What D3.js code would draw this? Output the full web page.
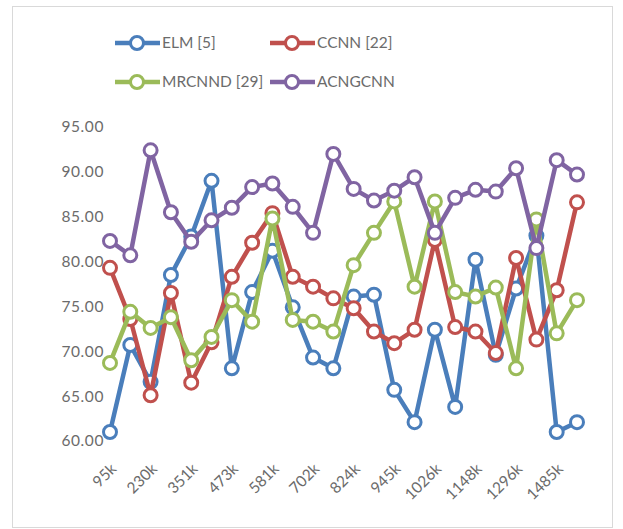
<!DOCTYPE html>
<html>
<head>
<meta charset="utf-8">
<script src="https://cdn.jsdelivr.net/npm/d3@7"></script>
<style>
  body { margin: 0; background: #fff; }
  text { font-family: Lato, "Open Sans", sans-serif; fill: #6b6b6b; }
</style>
</head>
<body>
<div id="chart"></div>
<script>
// categories (only every other one is printed on the axis)
var categories = ["95k", "160k", "230k", "290k", "351k", "412k", "473k", "527k",
  "581k", "641k", "702k", "763k", "824k", "884k", "945k", "985k",
  "1026k", "1087k", "1148k", "1222k", "1296k", "1390k", "1485k", "1570k"];

var elm = [61.0, 70.7, 66.6, 78.5, 82.8, 89.0, 68.1, 76.6, 81.2, 74.9, 69.3, 68.1,
  76.1, 76.3, 65.7, 62.1, 72.4, 63.8, 80.2, 69.6, 77.0, 82.9, 61.0, 62.1];
var ccnn = [79.3, 73.6, 65.1, 76.5, 66.5, 71.0, 78.3, 82.1, 85.4, 78.3, 77.2, 75.9,
  74.8, 72.2, 70.9, 72.4, 82.4, 72.7, 72.2, 69.8, 80.4, 71.3, 76.8, 86.6];
var mrcnnd = [68.7, 74.4, 72.6, 73.8, 69.0, 71.6, 75.7, 73.3, 84.8, 73.5, 73.3, 72.2,
  79.6, 83.2, 86.7, 77.2, 86.7, 76.6, 76.1, 77.1, 68.1, 84.7, 72.0, 75.7];
var acngcnn = [82.3, 80.7, 92.4, 85.5, 82.2, 84.6, 86.0, 88.3, 88.7, 86.1, 83.2, 92.0,
  88.1, 86.8, 87.9, 89.4, 83.2, 87.1, 88.0, 87.8, 90.4, 81.5, 91.3, 89.7];

var seriesNames = ["ELM [5]", "CCNN [22]", "MRCNND [29]", "ACNGCNN"];
var seriesColors = ["#4a7ebb", "#c0504d", "#9bbb59", "#8064a2"];
var yTicks = [60, 65, 70, 75, 80, 85, 90, 95];

var series = [elm, ccnn, mrcnnd, acngcnn].map(function(vals, i) {
  return { name: seriesNames[i], color: seriesColors[i], values: vals };
});

var svg = d3.select("#chart")
  .append("svg")
  .attr("width", 623)
  .attr("height", 529);

// chart frame
svg.append("rect")
  .attr("x", 12.5).attr("y", 6.5)
  .attr("width", 600).attr("height", 521)
  .style("fill", "none")
  .style("stroke", "#d9d9d9")
  .style("stroke-width", 1);

var x = d3.scalePoint().domain(categories).range([110, 577]);
var y = d3.scaleLinear().domain([60, 95]).range([441, 127]);

// y axis, labels only
var yAxis = svg.append("g")
  .attr("transform", "translate(104,0)")
  .call(d3.axisLeft(y).tickValues(yTicks).tickFormat(d3.format(".2f")).tickSize(0).tickPadding(0));
yAxis.select(".domain").remove();
yAxis.selectAll("text")
  .style("font-size", "15.5px")
  .style("font-family", "Lato, sans-serif")
  .style("letter-spacing", "0.6px")
  .attr("fill", "#6b6b6b");

// x axis, every other label, rotated
var xAxis = svg.append("g")
  .attr("transform", "translate(0,454)")
  .call(d3.axisBottom(x).tickValues(categories.filter(function(d, i) { return i % 2 == 0; })).tickSize(0).tickPadding(0));
xAxis.select(".domain").remove();
xAxis.selectAll("text")
  .style("font-size", "15.5px")
  .style("font-family", "Lato, sans-serif")
  .attr("fill", "#6b6b6b")
  .attr("text-anchor", "end")
  .attr("dy", "0.35em")
  .attr("transform", "translate(3,12) rotate(-45)");

var line = d3.line()
  .x(function(d, i) { return x(categories[i]); })
  .y(function(d) { return y(d); });

var lines = svg.selectAll("g.series")
  .data(series)
  .enter().append("g")
  .attr("class", "series");

lines.append("path")
  .attr("d", function(s) { return line(s.values); })
  .style("fill", "none")
  .style("stroke", function(s) { return s.color; })
  .style("stroke-width", 4.5)
  .style("stroke-linejoin", "round");

lines.selectAll("circle")
  .data(function(s) { return s.values.map(function(v, i) { return { v: v, i: i, color: s.color }; }); })
  .enter().append("circle")
  .attr("cx", function(d) { return x(categories[d.i]); })
  .attr("cy", function(d) { return y(d.v); })
  .attr("r", 6.5)
  .style("fill", "#fff")
  .style("stroke", function(d) { return d.color; })
  .style("stroke-width", 3);

// legend
var legendPos = [[115, 43], [270, 43], [115, 82], [270, 82]];
var legend = svg.selectAll("g.legend")
  .data(series)
  .enter().append("g")
  .attr("class", "legend")
  .attr("transform", function(d, i) { return "translate(" + legendPos[i][0] + "," + legendPos[i][1] + ")"; });

legend.append("line")
  .attr("x1", 0).attr("x2", 45)
  .style("stroke", function(d) { return d.color; })
  .style("stroke-width", 4.5);
legend.append("circle")
  .attr("cx", 22).attr("r", 6.5)
  .style("fill", "#fff")
  .style("stroke", function(d) { return d.color; })
  .style("stroke-width", 3);
legend.append("text")
  .attr("x", 47)
  .attr("dy", "0.35em")
  .style("font-size", "15.5px")
  .text(function(d) { return d.name; });
</script>
</body>
</html>
